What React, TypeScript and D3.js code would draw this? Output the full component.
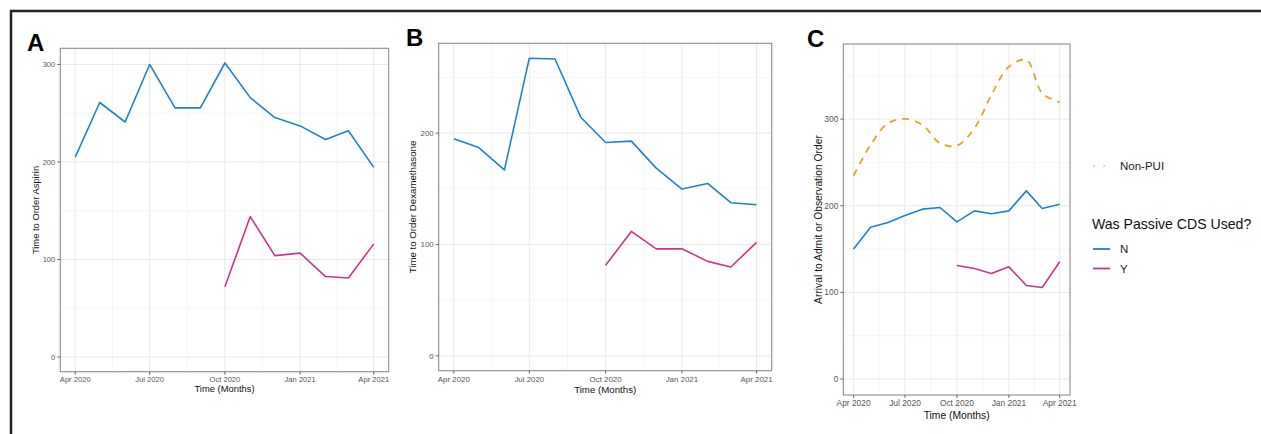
import React from "react";
import * as d3 from "d3";

// ---------- data ----------
const months = [
  "2020-04", "2020-05", "2020-06", "2020-07", "2020-08", "2020-09", "2020-10",
  "2020-11", "2020-12", "2021-01", "2021-02", "2021-03", "2021-04",
];
const passiveMonths = months.slice(6); // Oct 2020 .. Apr 2021

const aspirinN = [205, 261, 241, 300, 255.5, 255.5, 301.5, 266, 245.5, 237, 223, 232, 194.5];
const aspirinY = [72, 144, 104, 106.5, 82.5, 81, 116];

const dexN = [195, 187, 167, 267.3, 266.6, 214.3, 191.6, 192.8, 168.6, 149.8, 154.8, 137.5, 135.7];
const dexY = [81.3, 111.7, 96, 96.2, 84.8, 79.8, 101.9];

const admitN = [150, 175.3, 180.6, 188.7, 196.1, 198, 181.4, 194.1, 190.7, 194.1, 217.2, 196.8, 201.8];
const admitY = [131, 127.6, 121.8, 129.5, 108, 105.7, 135.3];
const admitNonPUI = [234.8, 270.2, 295.3, 300.2, 293.3, 272.2, 269.5, 289.5, 327.9, 360.5, 368.3, 329.9, 319.5];

const xTitle = "Time (Months)";
const legendTitle = "Was Passive CDS Used?";
const legendLabels = ["N", "Y"];
const nonPuiLabel = "Non-PUI";

// ---------- style ----------
const BLUE = "#1f82c6";
const PINK = "#c8358a";
const ORANGE = "#e3a225";
const FONT = "'Liberation Sans', Arial, Helvetica, sans-serif";

const parseMonth = d3.timeParse("%Y-%m");
const fmt = d3.timeFormat("%b %Y");

type Series = { dates: string[]; values: number[]; color: string; dashed?: boolean; smooth?: boolean };

type PanelProps = {
  letter: string;
  letterX: number;
  left: number; right: number; top: number; bottom: number;
  yTitle: string;
  yTitleX: number;
  series: Series[];
  tickFont: number;
  titleFont: number;
  xLabelOffset: number;
  xTitleOffset: number;
};

function Panel(p: PanelProps) {
  const allDates = months.map((m) => parseMonth(m)!.getTime());
  const [d0, d1] = d3.extent(allDates) as [number, number];
  const dx = (d1 - d0) * 0.05;
  const x = d3.scaleTime().domain([new Date(d0 - dx), new Date(d1 + dx)]).range([p.left, p.right]);

  const allVals = [0, ...p.series.flatMap((s) => s.values)];
  const [v0, v1] = d3.extent(allVals) as [number, number];
  const dv = (v1 - v0) * 0.05;
  const y = d3.scaleLinear().domain([v0 - dv, v1 + dv]).range([p.bottom, p.top]);

  const xTicks = d3.timeMonth.every(3)!.range(new Date(d0), new Date(d1 + 1));
  const xMinor = xTicks.slice(1).map((t, i) => new Date((t.getTime() + xTicks[i].getTime()) / 2));
  const yTicks = d3.range(0, y.domain()[1], 100);
  const yMinor = d3.range(50, y.domain()[1], 100);

  const midY = (p.top + p.bottom) / 2;
  const midX = (p.left + p.right) / 2;

  return (
    <g>
      <text x={p.letterX} y={p.top + 3} fontFamily={FONT} fontWeight="bold" fontSize={24} fill="#000">
        {p.letter}
      </text>
      {/* grid */}
      {yMinor.map((v) => (
        <line key={"ym" + v} x1={p.left} x2={p.right} y1={y(v)} y2={y(v)} stroke="#f3f3f3" strokeWidth={0.8} />
      ))}
      {xMinor.map((d, i) => (
        <line key={"xm" + i} x1={x(d)} x2={x(d)} y1={p.top} y2={p.bottom} stroke="#f3f3f3" strokeWidth={0.8} />
      ))}
      {yTicks.map((v) => (
        <line key={"yg" + v} x1={p.left} x2={p.right} y1={y(v)} y2={y(v)} stroke="#e8e8e8" strokeWidth={1} />
      ))}
      {xTicks.map((d, i) => (
        <line key={"xg" + i} x1={x(d)} x2={x(d)} y1={p.top} y2={p.bottom} stroke="#e8e8e8" strokeWidth={1} />
      ))}
      {/* series */}
      {p.series.map((s, i) => {
        const pts: [number, number][] = s.dates.map((m, j) => [x(parseMonth(m)!), y(s.values[j])]);
        const gen = d3.line().curve(s.smooth ? d3.curveCatmullRom.alpha(0.5) : d3.curveLinear);
        return (
          <path
            key={"s" + i}
            d={gen(pts) || ""}
            fill="none"
            stroke={s.color}
            strokeWidth={s.dashed ? 1.8 : 1.6}
            strokeDasharray={s.dashed ? "7,6" : undefined}
            strokeLinejoin="round"
          />
        );
      })}
      {/* border */}
      <rect x={p.left} y={p.top} width={p.right - p.left} height={p.bottom - p.top} fill="none" stroke="#8c8c8c" strokeWidth={1.1} />
      {/* y axis */}
      {yTicks.map((v) => (
        <g key={"yt" + v}>
          <line x1={p.left - 3} x2={p.left} y1={y(v)} y2={y(v)} stroke="#555" strokeWidth={0.9} />
          <text x={p.left - 5} y={y(v)} dy="0.35em" textAnchor="end" fontFamily={FONT} fontSize={p.tickFont} fill="#555">
            {v}
          </text>
        </g>
      ))}
      {/* x axis */}
      {xTicks.map((d, i) => (
        <g key={"xt" + i}>
          <line x1={x(d)} x2={x(d)} y1={p.bottom} y2={p.bottom + 3} stroke="#555" strokeWidth={0.9} />
          <text x={x(d)} y={p.bottom + p.xLabelOffset} dy="0.35em" textAnchor="middle" fontFamily={FONT} fontSize={p.tickFont} fill="#555">
            {fmt(d)}
          </text>
        </g>
      ))}
      <text x={midX} y={p.bottom + p.xTitleOffset} dy="0.35em" textAnchor="middle" fontFamily={FONT} fontSize={p.titleFont} fill="#111">
        {xTitle}
      </text>
      <text
        transform={`translate(${p.yTitleX},${midY}) rotate(-90)`}
        dy="0.35em"
        textAnchor="middle"
        fontFamily={FONT}
        fontSize={p.titleFont}
        fill="#111"
      >
        {p.yTitle}
      </text>
    </g>
  );
}

export default function App() {
  return (
    <svg width={1261} height={434} style={{ position: "absolute", left: 0, top: 0, background: "#fff" }}>
      <rect x={0} y={0} width={1261} height={434} fill="#fff" />
      <rect x={11} y={11} width={1262} height={440} fill="none" stroke="#222" strokeWidth={2.5} />
      <Panel
        letter="A" letterX={27}
        left={60.3} right={388.7} top={48.3} bottom={371.7}
        yTitle="Time to Order Aspirin" yTitleX={36}
        series={[
          { dates: months, values: aspirinN, color: BLUE },
          { dates: passiveMonths, values: aspirinY, color: PINK },
        ]}
        tickFont={7.6} titleFont={9.4} xLabelOffset={7.8} xTitleOffset={17.5}
      />
      <Panel
        letter="B" letterX={406}
        left={438.7} right={771.7} top={43.3} bottom={370.7}
        yTitle="Time to Order Dexamethasone" yTitleX={413}
        series={[
          { dates: months, values: dexN, color: BLUE },
          { dates: passiveMonths, values: dexY, color: PINK },
        ]}
        tickFont={7.9} titleFont={9.7} xLabelOffset={8.6} xTitleOffset={18.6}
      />
      <Panel
        letter="C" letterX={807}
        left={843.3} right={1070} top={44} bottom={395}
        yTitle="Arrival to Admit or Observation Order" yTitleX={818}
        series={[
          { dates: months, values: admitNonPUI, color: ORANGE, dashed: true, smooth: true },
          { dates: months, values: admitN, color: BLUE },
          { dates: passiveMonths, values: admitY, color: PINK },
        ]}
        tickFont={8.4} titleFont={10.3} xLabelOffset={8.3} xTitleOffset={20}
      />
      {/* legend */}
      <g fontFamily={FONT}>
        <line x1={1094} x2={1108} y1={166} y2={166} stroke={ORANGE} strokeOpacity={0.55} strokeWidth={2} strokeDasharray="0.1,10" strokeLinecap="round" />
        <text x={1120} y={166} dy="0.35em" fontSize={11.5} fill="#222">{nonPuiLabel}</text>
        <text x={1092} y={224} dy="0.35em" fontSize={14.1} fill="#111">{legendTitle}</text>
        {[BLUE, PINK].map((c, i) => (
          <g key={c}>
            <line x1={1093} x2={1110} y1={249 + i * 19.5} y2={249 + i * 19.5} stroke={c} strokeWidth={1.8} />
            <text x={1120} y={249 + i * 19.5} dy="0.35em" fontSize={11.5} fill="#222">{legendLabels[i]}</text>
          </g>
        ))}
      </g>
    </svg>
  );
}
